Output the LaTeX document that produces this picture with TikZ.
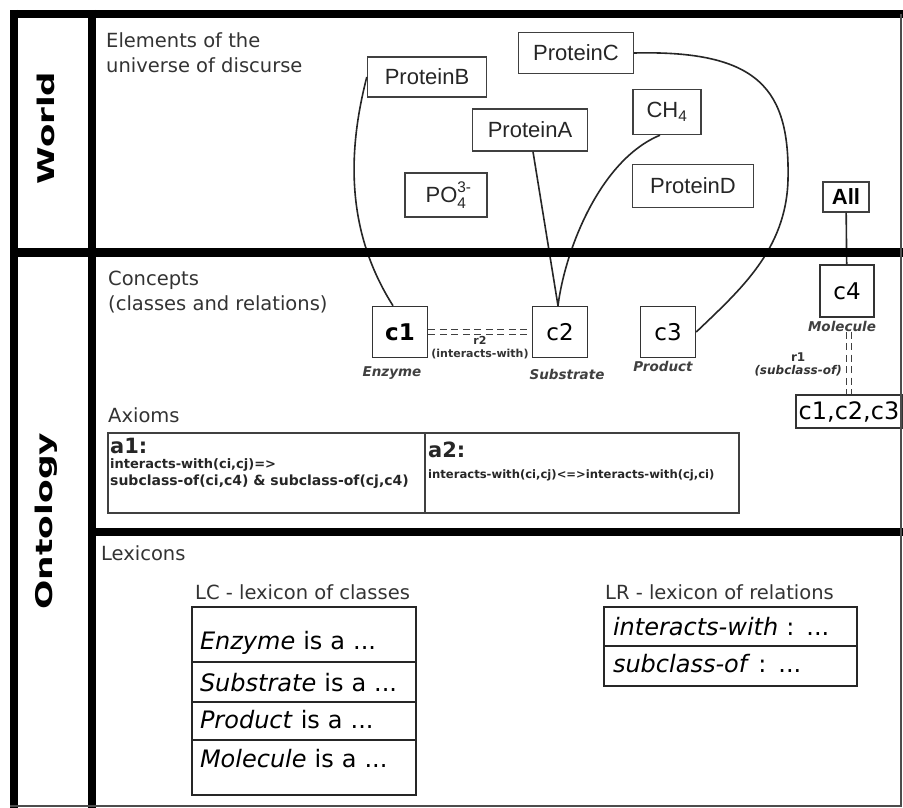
\documentclass[tikz,border=0pt]{standalone}
\usepackage{fontspec}
\setmainfont{DejaVu Sans}
\newfontfamily\arialfont{Liberation Sans}
\usetikzlibrary{positioning}

\tikzset{
  framebar/.style={line width=8pt, black},
  link/.style={line width=1.6pt, black!85},
  relation/.style={draw=black!75, line width=1.8pt, double, double distance=3.2pt, dash pattern=on 7pt off 4.5pt},
}

\begin{document}
\begin{tikzpicture}[x=1pt, y=-1pt,
    section/.style={inner sep=0pt, text=black!80, font=\fontsize{19.5}{25}\selectfont},
    elem/.style={draw=black!75, line width=1.4pt, inner sep=0pt, text=black!85, font=\arialfont\fontsize{22}{24}\selectfont},
    concept/.style={draw=black!80, line width=1.5pt, inner sep=0pt, minimum width=55pt, minimum height=51pt, font=\fontsize{23}{25}\selectfont},
    conceptname/.style={inner sep=0pt, text=black!75, font=\fontsize{13.5}{15}\selectfont\bfseries\itshape},
    rellabel/.style={inner sep=0pt, align=center, text=black!80, font=\fontsize{11}{13}\selectfont\bfseries},
    axiombox/.style={draw=black!75, line width=1.5pt, minimum height=80pt},
    axiomtext/.style={inner sep=0pt, anchor=base west, text=black!85},
    lexcell/.style={draw=black!85, line width=1.8pt, inner ysep=0pt, outer sep=0pt, align=left, font=\fontsize{24}{26}\selectfont}
  ]
    \useasboundingbox (0,0) rectangle (903,808);
    \fill[white] (0,0) rectangle (903,808);

    % Row labels
    \node[rotate=90, inner sep=0pt, font=\fontsize{23}{25}\selectfont\bfseries] (world) at (46,128) {\scalebox{1.48}[1]{World}};
    \node[rotate=90, inner sep=0pt, font=\fontsize{23}{25}\selectfont\bfseries] (onto) at (46,521) {\scalebox{1.5}[1]{Ontology}};

    % Section titles
    \node[section, anchor=north west, align=left] (elemlbl) at (106,32) {Elements of the\\universe of discurse};
    \node[section, anchor=north west, align=left] (conclbl) at (108,271) {Concepts\\(classes and relations)};
    \node[section, anchor=base west] (axlbl) at (108,422) {Axioms};
    \node[section, anchor=base west] (lexlbl) at (101,560) {Lexicons};
    \node[section, anchor=base west] (lclbl) at (195,599) {LC - lexicon of classes};
    \node[section, anchor=base west] (lrlbl) at (605,599) {LR - lexicon of relations};

    % Elements of the world
    \node[elem, minimum width=119pt, minimum height=40pt] (pB) at (427,77) {ProteinB};
    \node[elem, minimum width=115pt, minimum height=41pt] (pC) at (576,53) {ProteinC};
    \node[elem, minimum width=115pt, minimum height=42pt] (pA) at (530,130) {ProteinA};
    \node[elem, minimum width=68pt, minimum height=45pt] (ch4) at (667,112) {CH\textsubscript{4}};
    \node[elem, minimum width=121pt, minimum height=43pt] (pD) at (693,186) {ProteinD};
    \node[elem, minimum width=82pt, minimum height=44pt] (po4) at (446,195) {PO\rlap{\raisebox{3pt}{\textsuperscript{3-}}}\raisebox{-2pt}{\textsubscript{4}}\hspace{8pt}};
    \node[elem, font=\arialfont\fontsize{22}{24}\selectfont\bfseries, text=black, minimum width=46pt, minimum height=30pt] (all) at (846,197) {All};

    % Concepts
    \node[concept, font=\fontsize{23}{25}\selectfont\bfseries] (c1) at (400,332) {c1};
    \node[concept] (c2) at (560,332) {c2};
    \node[concept] (c3) at (668,332) {c3};
    \node[concept, minimum width=54pt, minimum height=52pt] (c4) at (847,291) {c4};
    \node[concept, minimum width=106pt, minimum height=33pt, font=\fontsize{24}{26}\selectfont] (c123) at (849,411.5) {c1,c2,c3};

    \node[conceptname, below=8pt of c1, xshift=-8pt] (enz) {Enzyme};
    \node[conceptname, below=11pt of c2, xshift=7pt] (sub) {Substrate};
    \node[conceptname, below=3pt of c3, xshift=-5pt] (prod) {Product};
    \node[conceptname, below=3pt of c4, xshift=-5pt] (mol) {Molecule};

    % Links world -> concepts
    \draw[link] (pB.west) .. controls (348,150) and (345,230) .. ([xshift=-7pt]c1.north);
    \draw[link] ([xshift=3pt]pA.south) -- ([xshift=-2pt]c2.north);
    \draw[link] ([xshift=-7pt]ch4.south) .. controls (600,160) and (565,250) .. ([xshift=-2pt]c2.north);
    \draw[link] (pC.east) .. controls (760,50) and (790,90) .. (788,180) .. controls (786,250) and (740,290) .. (c3.east);
    \draw[link] (all) -- (c4);

    % Relations
    \draw[relation] (c1) -- (c2) node[rellabel, midway, below=3pt] (r2lbl) {r2\\(interacts-with)};
    \draw[relation] (c123.north |- mol.south) -- (c123.north);
    \node[rellabel, anchor=east, font=\fontsize{12}{13}\selectfont\bfseries] (r1lbl) at (842,364) {r1\\\textit{(subclass-of)}};

    % Axioms
    \node[axiombox, minimum width=317pt] (ax1) at (266.5,473) {};
    \node[axiombox, minimum width=314pt] (ax2) at (582,473) {};
    \node[axiomtext, font=\fontsize{21}{23}\selectfont\bfseries] (ax1name) at (110,453) {a1:};
    \node[axiomtext, font=\fontsize{13}{15}\selectfont\bfseries] (ax1a) at (110,468) {interacts-with(ci,cj)=>};
    \node[axiomtext, font=\fontsize{14}{16}\selectfont\bfseries] (ax1b) at (110,485) {subclass-of(ci,c4) \& subclass-of(cj,c4)};
    \node[axiomtext, font=\fontsize{21}{23}\selectfont\bfseries] (ax2name) at (428,457) {a2:};
    \node[axiomtext, font=\fontsize{11.6}{13}\selectfont\bfseries] (ax2a) at (428,478) {interacts-with(ci,cj)<=>interacts-with(cj,ci)};

    % Lexicon of classes
    \node[lexcell, anchor=north west, inner xsep=8pt, text width=208pt, text height=42pt, text depth=13pt] (lc1) at (192,607) {\textit{Enzyme} is a ...};
    \node[lexcell, below=0pt of lc1, inner xsep=8pt, text width=208pt, text height=29pt, text depth=11pt] (lc2) {\textit{Substrate} is a ...};
    \node[lexcell, below=0pt of lc2, inner xsep=8pt, text width=208pt, text height=26pt, text depth=12pt] (lc3) {\textit{Product} is a ...};
    \node[lexcell, below=0pt of lc3, inner xsep=8pt, text width=208pt, text height=27pt, text depth=28pt] (lc4) {\textit{Molecule} is a ...};

    % Lexicon of relations
    \node[lexcell, anchor=north west, inner xsep=9pt, text width=235pt, text height=28pt, text depth=11pt] (lr1) at (604,607) {\textit{interacts-with} : ...};
    \node[lexcell, below=0pt of lr1, inner xsep=9pt, text width=235pt, text height=26pt, text depth=14pt] (lr2) {\textit{subclass-of} : ...};

    % Frame
    \draw[framebar] (10,14) -- (903,14);
    \draw[framebar] (14,10) -- (14,808);
    \draw[framebar] (92,10) -- (92,808);
    \draw[framebar, line width=9pt] (10,252) -- (903,252);
    \draw[framebar] (92,532) -- (903,532);
    \draw[line width=2pt, black!70] (10,806) -- (901,806) -- (901,14);
\end{tikzpicture}
\end{document}
